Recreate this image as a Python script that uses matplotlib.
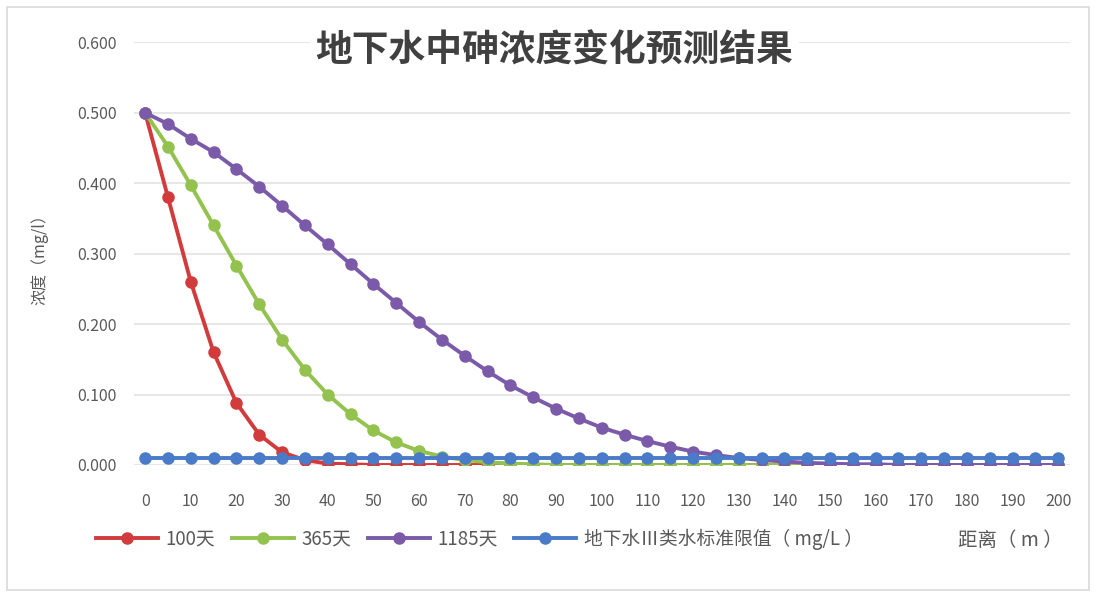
import numpy as np
import matplotlib.pyplot as plt
from matplotlib.patches import Rectangle

plt.rcParams['font.family'] = ['Noto Sans CJK SC', 'DejaVu Sans']

# distance from source (m), every 5 m
distance = list(range(0, 205, 5))

# arsenic concentration (mg/L) along the flow path
c_100 = [0.500, 0.380, 0.260, 0.160, 0.088, 0.043, 0.018, 0.007, 0.002, 0.001,
         0.000, 0.000, 0.000, 0.000, 0.000, 0.000, 0.000, 0.000, 0.000, 0.000,
         0.000, 0.000, 0.000, 0.000, 0.000, 0.000, 0.000, 0.000, 0.000, 0.000,
         0.000, 0.000, 0.000, 0.000, 0.000, 0.000, 0.000, 0.000, 0.000, 0.000,
         0.000]
c_365 = [0.500, 0.452, 0.397, 0.340, 0.283, 0.228, 0.178, 0.135, 0.100, 0.072,
         0.049, 0.032, 0.020, 0.012, 0.007, 0.004, 0.002, 0.001, 0.000, 0.000,
         0.000, 0.000, 0.000, 0.000, 0.000, 0.000, 0.000, 0.000, 0.000, 0.000,
         0.000, 0.000, 0.000, 0.000, 0.000, 0.000, 0.000, 0.000, 0.000, 0.000,
         0.000]
c_1185 = [0.500, 0.484, 0.463, 0.444, 0.420, 0.395, 0.368, 0.340, 0.313, 0.285,
          0.257, 0.230, 0.203, 0.178, 0.155, 0.133, 0.113, 0.096, 0.080, 0.066,
          0.053, 0.043, 0.034, 0.026, 0.019, 0.014, 0.010, 0.007, 0.005, 0.003,
          0.002, 0.001, 0.001, 0.000, 0.000, 0.000, 0.000, 0.000, 0.000, 0.000,
          0.000]
limit = [0.01] * len(distance)

series = [
    (c_100, '100天', '#d23b3b'),
    (c_365, '365天', '#93c24e'),
    (c_1185, '1185天', '#7a5aa9'),
    (limit, '地下水Ⅲ类水标准限值（ mg/L ）', '#4a7bc9'),
]

fig = plt.figure(figsize=(10.96, 5.95), dpi=100)
fig.patches.append(Rectangle((0.006, 0.008), 0.988, 0.98, transform=fig.transFigure,
                             fill=False, edgecolor='#d9d9d9', linewidth=1.2))

ax = fig.add_axes([0.122, 0.2185, 0.854, 0.7105])

for vals, name, col in series:
    ax.plot(distance, vals, color=col, linewidth=2.8, marker='o',
            markersize=8, label=name)

ax.set_xlim(-2.5, 202.5)
ax.set_ylim(0, 0.6)
ax.set_xticks(range(0, 201, 10))
ax.set_yticks(np.arange(0, 0.61, 0.1))
ax.set_yticklabels([f'{v:.3f}' for v in np.arange(0, 0.61, 0.1)])
ax.grid(axis='y', color='#e3e3e3', linewidth=1.2)
ax.set_axisbelow(True)
for s in ax.spines.values():
    s.set_visible(False)
ax.tick_params(axis='both', length=0, colors='#595959', labelsize=11.5)
ax.tick_params(axis='x', pad=20)
ax.tick_params(axis='y', pad=12)

fig.text(0.506, 0.915, '地下水中砷浓度变化预测结果', fontsize=26.5, fontweight='bold',
         color='#404040', ha='center', va='center',
         bbox=dict(facecolor='white', edgecolor='none', pad=4))
fig.text(0.036, 0.57, '浓度（mg/l）', rotation=90, fontsize=11.5, color='#595959',
         ha='center', va='center')
fig.text(0.922, 0.092, '距离（ m ）', fontsize=14, color='#595959',
         ha='center', va='center')

ax.legend(loc='center left', bbox_to_anchor=(0.072, 0.094),
          bbox_transform=fig.transFigure, ncol=4, frameon=False,
          fontsize=13.5, handlelength=3.3, columnspacing=0.9, handletextpad=0.4,
          labelcolor='#595959')

fig.savefig('out.png', dpi=100, facecolor='white')
